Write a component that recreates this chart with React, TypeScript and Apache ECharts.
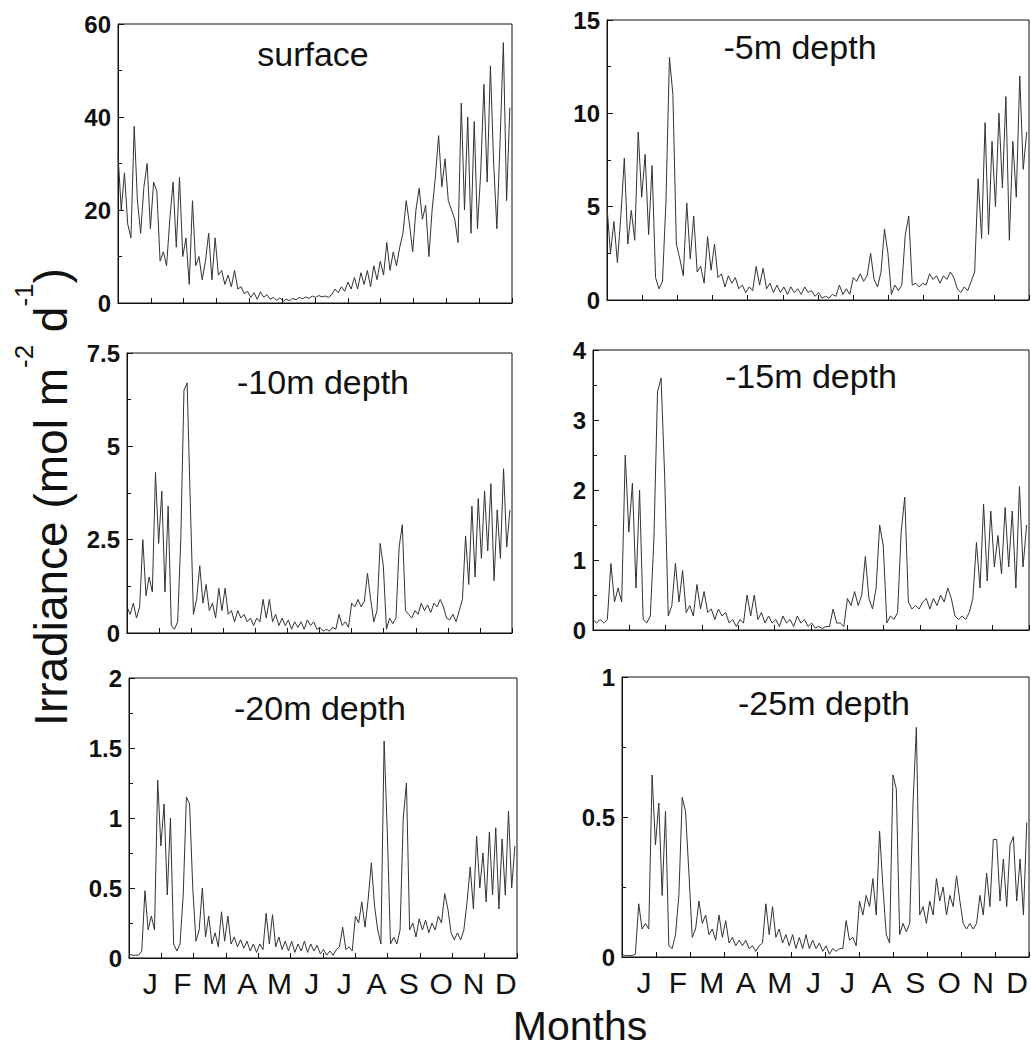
import React, { useEffect, useRef } from 'react';
import * as echarts from 'echarts';

// Sampling step of the series (days between samples, starting at day 0)
const SAMPLE_STEP_DAYS = 3;
const YEAR_DAYS = 365;

const MONTHS = ['J', 'F', 'M', 'A', 'M', 'J', 'J', 'A', 'S', 'O', 'N', 'D'];

const SURFACE = [
  32, 20, 28, 17, 14, 38, 22, 15, 25, 30,
  16, 26, 24, 9, 11, 8, 18, 26, 12, 27,
  10, 14, 4, 22, 8, 10, 5, 9, 15, 5,
  14, 6, 7, 4, 6, 3.5, 7, 3, 3.5, 2,
  2.5, 1.2, 2.2, 0.8, 2.4, 1.2, 1.8, 0.8, 1.2, 0.6,
  1.1, 0.4, 0.8, 0.5, 1, 0.7, 1.2, 0.9, 1.3, 1.0,
  1.5, 1.2, 1.6, 1.3, 1.5, 1.2, 1.8, 3, 2.2, 3.5,
  2.5, 4.5, 3, 5.5, 3, 6.5, 4, 7, 3.5, 8,
  5, 9, 6, 13, 7, 11, 8, 12, 15, 22,
  17, 11, 20, 24.7, 18, 21, 10, 20, 27, 36,
  25, 31, 22, 20, 18, 13, 43, 20, 40, 15,
  39, 16, 28, 47, 26, 51, 30, 16, 35, 56,
  22, 42,
];

const DEPTH_5M = [
  5, 2.5, 4.2, 2, 4.5, 7.6, 3, 4.8, 3.2, 9,
  5.5, 7.8, 3.5, 7.2, 1.2, 0.6, 1, 5.3, 13, 11,
  3, 2.2, 1.3, 5.2, 2.2, 4.5, 1.5, 1.8, 0.9, 3.4,
  1.6, 3.0, 1.2, 1.4, 0.7, 1.3, 0.9, 1.2, 0.6, 0.8,
  0.4, 0.7, 0.5, 1.8, 0.8, 1.7, 0.6, 0.9, 0.4, 0.8,
  0.4, 0.7, 0.3, 0.7, 0.4, 0.6, 0.3, 0.7, 0.4, 0.5,
  0.2, 0.4, 0.1, 0.2, 0.1, 0.3, 0.2, 0.8, 0.3, 0.6,
  0.3, 1.2, 1.0, 1.4, 1.0, 1.3, 2.5, 1.1, 0.7, 1.5,
  3.8, 2.5, 0.3, 0.8, 0.5, 0.8, 3.5, 4.5, 0.8, 0.9,
  0.7, 0.9, 0.8, 1.4, 1.1, 1.3, 0.9, 1.3, 1.1, 1.5,
  1.2, 0.6, 0.4, 0.7, 0.5, 1.0, 1.5, 6.5, 3.3, 9.5,
  3.5, 8.5, 5, 10, 6, 10.9, 3.2, 8.5, 5.5, 12,
  7, 9,
];

const DEPTH_10M = [
  0.7, 0.5, 0.8, 0.4, 0.7, 2.5, 1.0, 1.5, 1.1, 4.3,
  2.4, 3.8, 1.1, 3.4, 0.2, 0.1, 0.3, 2.5, 6.5, 6.7,
  3.5, 0.5, 0.9, 1.8, 0.8, 1.3, 0.6, 0.8, 0.4, 1.2,
  0.6, 1.2, 0.5, 0.6, 0.3, 0.6, 0.4, 0.5, 0.3, 0.4,
  0.2, 0.4, 0.3, 0.9, 0.4, 0.9, 0.3, 0.5, 0.2, 0.4,
  0.2, 0.35, 0.1, 0.3, 0.15, 0.3, 0.1, 0.35, 0.2, 0.3,
  0.1, 0.15, 0.05, 0.1, 0.05, 0.15, 0.1, 0.5, 0.2, 0.3,
  0.15, 0.8, 0.7, 0.9, 0.7, 0.85, 1.6, 0.9, 0.3, 0.6,
  2.4, 1.8, 0.1, 0.4, 0.25, 0.4, 2.3, 2.9, 0.6, 0.5,
  0.4, 0.6, 0.5, 0.8, 0.6, 0.75, 0.55, 0.8, 0.7, 0.9,
  0.7, 0.4, 0.35, 0.5, 0.3, 0.6, 0.9, 2.6, 1.3, 3.4,
  1.5, 3.6, 2.0, 3.8, 2.2, 4.0, 1.4, 3.3, 2.0, 4.4,
  2.3, 3.3,
];

const DEPTH_15M = [
  0.15, 0.1, 0.15, 0.1, 0.15, 0.95, 0.4, 0.6, 0.4, 2.5,
  1.4, 2.1, 0.6, 2.0, 0.15, 0.1, 0.2, 1.3, 3.4, 3.6,
  2.2, 0.2, 0.35, 0.95, 0.4, 0.85, 0.25, 0.35, 0.2, 0.65,
  0.3, 0.55, 0.25, 0.3, 0.15, 0.3, 0.2, 0.25, 0.1, 0.15,
  0.05, 0.15, 0.1, 0.5, 0.2, 0.5, 0.15, 0.25, 0.1, 0.2,
  0.1, 0.15, 0.05, 0.2, 0.1, 0.15, 0.05, 0.2, 0.1, 0.15,
  0.05, 0.1, 0.03, 0.05, 0.02, 0.05, 0.05, 0.3, 0.1, 0.1,
  0.05, 0.45, 0.35, 0.55, 0.35, 0.5, 1.05, 0.45, 0.3, 0.6,
  1.5, 1.2, 0.1, 0.2, 0.15, 0.25, 1.4, 1.9, 0.4, 0.3,
  0.35, 0.3, 0.4, 0.45, 0.3, 0.45, 0.35, 0.5, 0.4, 0.6,
  0.45, 0.2, 0.15, 0.2, 0.15, 0.25, 0.45, 1.25, 0.6, 1.8,
  0.7, 1.7, 0.9, 1.35, 0.8, 1.75, 0.9, 1.7, 0.6, 2.05,
  0.9, 1.5,
];

const DEPTH_20M = [
  0.03, 0.02, 0.02, 0.02, 0.05, 0.48, 0.2, 0.3, 0.2, 1.27,
  0.8, 1.1, 0.45, 1.0, 0.1, 0.05, 0.1, 0.45, 1.15, 1.1,
  0.5, 0.12, 0.2, 0.5, 0.15, 0.3, 0.1, 0.18, 0.08, 0.33,
  0.12, 0.3, 0.1, 0.15, 0.08, 0.13, 0.07, 0.12, 0.05, 0.1,
  0.04, 0.1, 0.06, 0.32, 0.1, 0.31, 0.08, 0.15, 0.06, 0.12,
  0.05, 0.12, 0.04, 0.1, 0.05, 0.12, 0.04, 0.1, 0.05, 0.09,
  0.03, 0.06, 0.02, 0.05, 0.02, 0.06, 0.08, 0.22, 0.06, 0.08,
  0.05, 0.3, 0.25, 0.4, 0.22, 0.42, 0.68, 0.37, 0.2, 0.1,
  1.55, 0.9, 0.1, 0.15, 0.1, 0.2, 1.0, 1.25, 0.2, 0.25,
  0.15, 0.28, 0.2, 0.27, 0.18, 0.25, 0.2, 0.3, 0.25, 0.46,
  0.35, 0.18, 0.13, 0.18, 0.13, 0.2, 0.4, 0.65, 0.35, 0.87,
  0.5, 0.75, 0.4, 0.9, 0.45, 0.93, 0.35, 0.85, 0.45, 1.05,
  0.5, 0.8,
];

const DEPTH_25M = [
  0.01, 0.005, 0.005, 0.005, 0.01, 0.19, 0.1, 0.12, 0.1, 0.65,
  0.4, 0.55, 0.22, 0.52, 0.04, 0.03, 0.08, 0.22, 0.57, 0.52,
  0.3, 0.07, 0.1, 0.2, 0.12, 0.15, 0.08, 0.1, 0.06, 0.15,
  0.07, 0.13, 0.05, 0.07, 0.04, 0.06, 0.04, 0.06, 0.03, 0.04,
  0.02, 0.04, 0.05, 0.19, 0.08, 0.18, 0.07, 0.1, 0.05, 0.08,
  0.04, 0.08, 0.03, 0.07, 0.03, 0.08, 0.03, 0.06, 0.03, 0.05,
  0.02, 0.04, 0.01, 0.03, 0.02, 0.03, 0.03, 0.13, 0.06, 0.07,
  0.04, 0.2, 0.15, 0.22, 0.18, 0.28, 0.15, 0.45, 0.25, 0.08,
  0.05, 0.65, 0.6, 0.08, 0.12, 0.09, 0.12, 0.55, 0.82, 0.15,
  0.18, 0.12, 0.2, 0.15, 0.28, 0.2, 0.25, 0.15, 0.22, 0.18,
  0.29, 0.2, 0.12, 0.1, 0.12, 0.1, 0.12, 0.22, 0.15, 0.3,
  0.18, 0.42, 0.42, 0.2, 0.35, 0.18, 0.4, 0.43, 0.2, 0.35,
  0.15, 0.48,
];

const PANEL_TITLES = ['surface', '-5m depth', '-10m depth', '-15m depth', '-20m depth', '-25m depth'];
const PANEL_SERIES = [SURFACE, DEPTH_5M, DEPTH_10M, DEPTH_15M, DEPTH_20M, DEPTH_25M];
const Y_MAX = [60, 15, 7.5, 4, 2, 1];
const Y_INTERVAL = [20, 5, 2.5, 1, 0.5, 0.5];

// layout (pixels)
const GRIDS = [
  { left: 118, top: 24, width: 394, height: 279 },
  { left: 607, top: 20, width: 422, height: 280 },
  { left: 127, top: 353, width: 385, height: 280 },
  { left: 593, top: 350, width: 436, height: 280 },
  { left: 129, top: 678, width: 388, height: 280 },
  { left: 622, top: 677, width: 407, height: 280 },
];
const TITLE_POS = [
  [313, 54], [800, 47], [323, 382], [811, 376], [320, 708], [824, 703],
];

const FONT = '"Liberation Sans", Arial, Helvetica, sans-serif';
const INK = '#111';

export default function App() {
  const ref = useRef<HTMLDivElement>(null);

  useEffect(() => {
    if (!ref.current) return;
    const chart = echarts.init(ref.current, undefined, { renderer: 'svg' });

    const xAxes: any[] = [];
    const yAxes: any[] = [];
    const series: any[] = [];

    GRIDS.forEach((_, i) => {
      xAxes.push({
        type: 'value',
        gridIndex: i,
        min: 0,
        max: YEAR_DAYS,
        interval: YEAR_DAYS / 12,
        position: 'bottom',
        axisLine: { show: true, lineStyle: { color: INK, width: 1 } },
        axisTick: { show: true, inside: true, length: 5, lineStyle: { color: INK } },
        axisLabel: { show: false },
        splitLine: { show: false },
      });
      yAxes.push({
        type: 'value',
        gridIndex: i,
        min: 0,
        max: Y_MAX[i],
        interval: Y_INTERVAL[i],
        axisLine: { show: true, lineStyle: { color: INK, width: 1 } },
        axisTick: { show: true, inside: true, length: 6, lineStyle: { color: INK } },
        minorTick: { show: true, splitNumber: 2, length: 4, lineStyle: { color: INK } },
        axisLabel: {
          show: true,
          color: INK,
          fontFamily: FONT,
          fontWeight: 'bold',
          fontSize: 24,
          margin: 7,
        },
        splitLine: { show: false },
        minorSplitLine: { show: false },
      });
      series.push({
        type: 'line',
        xAxisIndex: i,
        yAxisIndex: i,
        showSymbol: false,
        symbol: 'none',
        clip: true,
        lineStyle: { color: '#333', width: 1 },
        data: PANEL_SERIES[i].map((v, k) => [k * SAMPLE_STEP_DAYS, v]),
      });
    });

    // month label axes under the two bottom panels
    [4, 5].forEach((gi) => {
      xAxes.push({
        type: 'category',
        gridIndex: gi,
        position: 'bottom',
        boundaryGap: true,
        data: MONTHS.map((_, k) => String(k)),
        axisLine: { show: false },
        axisTick: { show: false },
        splitLine: { show: false },
        axisLabel: {
          show: true,
          interval: 0,
          color: INK,
          fontFamily: FONT,
          fontSize: 30,
          margin: 10,
          padding: [0, 0, 0, 10],
          formatter: (_v: string, idx: number) => MONTHS[idx],
        },
      });
    });

    const graphics: any[] = PANEL_TITLES.map((t, i) => ({
      type: 'text',
      x: TITLE_POS[i][0],
      y: TITLE_POS[i][1],
      style: {
        text: t,
        fontFamily: FONT,
        fontSize: 34,
        fill: INK,
        align: 'center',
        verticalAlign: 'middle',
      },
    }));

    graphics.push({
      type: 'text',
      x: 51,
      y: 497,
      rotation: Math.PI / 2,
      style: {
        text: 'Irradiance (mol m{sup|-2} d{sup|-1})',
        fontFamily: FONT,
        fontSize: 46,
        lineHeight: 80,
        fill: INK,
        align: 'center',
        verticalAlign: 'middle',
        rich: {
          sup: { fontSize: 26, lineHeight: 26, verticalAlign: 'top', fontFamily: FONT, fill: INK },
        },
      },
    });

    graphics.push({
      type: 'text',
      x: 580,
      y: 1026,
      style: {
        text: 'Months',
        fontFamily: FONT,
        fontSize: 41,
        fill: INK,
        align: 'center',
        verticalAlign: 'middle',
      },
    });

    chart.setOption({
      animation: false,
      backgroundColor: '#ffffff',
      grid: GRIDS.map((g) => ({ ...g, show: true, borderColor: INK, borderWidth: 1, backgroundColor: 'transparent' })),
      xAxis: xAxes,
      yAxis: yAxes,
      series,
      graphic: graphics,
    });

    return () => chart.dispose();
  }, []);

  return (
    <div
      ref={ref}
      style={{ position: 'absolute', left: 0, top: 0, width: 1031, height: 1057, background: '#fff' }}
    />
  );
}
